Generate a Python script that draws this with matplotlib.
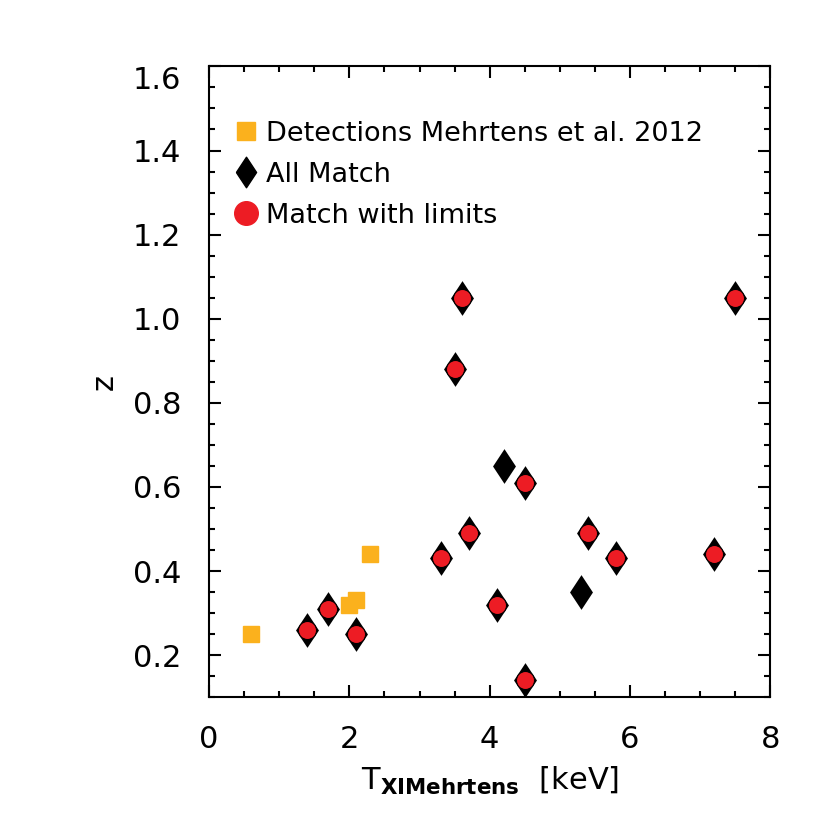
import matplotlib
matplotlib.use("Agg")
import matplotlib.pyplot as plt
from matplotlib.lines import Line2D
from matplotlib.ticker import MultipleLocator

# Mehrtens et al. 2012 detections
det_t = [0.6, 2.0, 2.1, 2.3]
det_z = [0.25, 0.32, 0.33, 0.44]

# all matches (diamonds)
all_t = [1.4, 1.7, 2.1, 3.3, 3.5, 3.6, 3.7, 4.1, 4.2, 4.5, 4.5, 5.3, 5.4, 5.8, 7.2, 7.5]
all_z = [0.26, 0.31, 0.25, 0.43, 0.88, 1.05, 0.49, 0.32, 0.65, 0.61, 0.14, 0.35, 0.49, 0.43, 0.44, 1.05]

# matches with limits (red circles)
lim_t = [1.4, 1.7, 2.1, 3.3, 3.5, 3.6, 3.7, 4.1, 4.5, 4.5, 5.4, 5.8, 7.2, 7.5]
lim_z = [0.26, 0.31, 0.25, 0.43, 0.88, 1.05, 0.49, 0.32, 0.61, 0.14, 0.49, 0.43, 0.44, 1.05]

ytick_vals = [0.2, 0.4, 0.6, 0.8, 1.0, 1.2, 1.4, 1.6]
ytick_txt = ["0.2", "0.4", "0.6", "0.8", "1.0", "1.2", "1.4", "1.6"]

orange = "#FBB11D"
red = "#ED1C24"
diamond = [(-0.33, 0), (0, 0.5), (0.33, 0), (0, -0.5), (-0.33, 0)]

plt.rcParams['font.family'] = ['DejaVu Sans']
fig = plt.figure(figsize=(8.3, 8.3), dpi=100)
ax = fig.add_axes([0.252, 0.160, 0.676, 0.760])

ax.plot(det_t, det_z, linestyle="none", marker="s", ms=11, color=orange, mec=orange)
ax.plot(all_t, all_z, linestyle="none", marker=diamond, ms=25, color="black", mec="black", mew=0)
ax.plot(lim_t, lim_z, linestyle="none", marker="o", ms=13, color=red, mec="black", mew=0.8)

ax.set_xlim(0, 8)
ax.set_ylim(0.1, 1.6)
ax.xaxis.set_major_locator(MultipleLocator(2))
ax.xaxis.set_minor_locator(MultipleLocator(0.5))
ax.yaxis.set_minor_locator(MultipleLocator(0.05))
ax.set_yticks(ytick_vals)
ax.set_yticklabels(ytick_txt)
ax.tick_params(which="both", direction="in", top=True, right=True, width=1.5, labelsize=22)
ax.tick_params(which="major", length=8.5)
ax.tick_params(which="minor", length=4.3)
ax.tick_params(axis="y", which="major", pad=20)
ax.tick_params(axis="x", which="major", pad=20)
ax.get_yticklabels()[-1].set_verticalalignment("top")
for s in ax.spines.values():
    s.set_linewidth(1.5)

ax.set_xlabel(r"T$_{\mathbf{XIMehrtens}}$  [keV]", fontsize=22, labelpad=8)
ax.set_ylabel("z", fontsize=22, labelpad=10)

handles = [
    Line2D([], [], linestyle="none", marker="s", ms=13, color=orange, label="Detections Mehrtens et al. 2012"),
    Line2D([], [], linestyle="none", marker=diamond, ms=22, color="black", label="All Match"),
    Line2D([], [], linestyle="none", marker="o", ms=17, color=red, label="Match with limits"),
]
ax.legend(handles=handles, loc="upper left", bbox_to_anchor=(0.008, 0.948), frameon=False,
          fontsize=19.5, handlelength=0.8, handletextpad=0.35, labelspacing=0.55, borderpad=0.3)

fig.savefig("out.png", dpi=100)
